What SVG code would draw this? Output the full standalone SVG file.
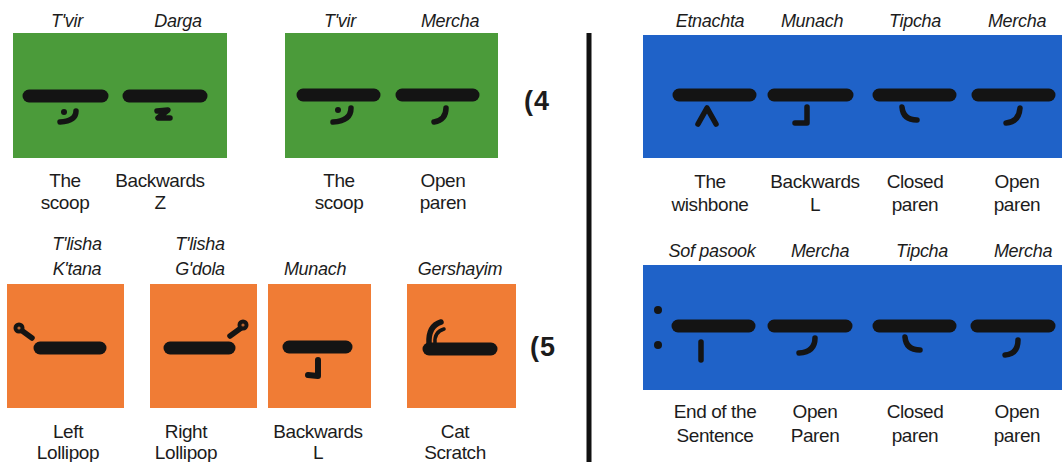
<svg xmlns="http://www.w3.org/2000/svg" width="1062" height="462" viewBox="0 0 1062 462">
<style>
text{font-family:"Liberation Sans",Arial,sans-serif;fill:#1c1c1c;text-anchor:middle;font-size:19px;letter-spacing:-0.4px}
.it{font-style:italic;font-size:18px;letter-spacing:-0.3px}
.num{font-weight:bold;font-size:27px;text-anchor:start;letter-spacing:1px}
.green{fill:#4b9b3a}
.orange{fill:#f07c35}
.blue{fill:#1f62c8}
.bar{stroke:#141414;stroke-width:13;stroke-linecap:round;fill:none}
.g{stroke:#141414;stroke-width:5.5;stroke-linecap:round;stroke-linejoin:round;fill:none}
.dot{fill:#141414}
</style>
<rect width="1062" height="462" fill="#ffffff"/>
<g id="divider"><line x1="589" y1="33" x2="589" y2="462" stroke="#111" stroke-width="5"/></g>

<g id="green-1">
<rect class="green" x="13" y="33" width="214" height="125"/>
<line class="bar" x1="29" y1="96" x2="102" y2="96"/>
<line class="bar" x1="129" y1="96" x2="201" y2="96"/>
<circle class="dot" cx="64" cy="112" r="3"/>
<path class="g" d="M76,111 Q76,121 60,122"/>
<path class="g" d="M157,111 L168,110 L158,118 L170,118"/>
<text class="it" x="67" y="27">T'vir</text>
<text class="it" x="178" y="27">Darga</text>
<text x="65" y="187">The</text><text x="65" y="209">scoop</text>
<text x="160" y="187">Backwards</text><text x="160" y="209">Z</text>
</g>

<g id="green-2">
<rect class="green" x="285" y="33" width="213" height="125"/>
<line class="bar" x1="303" y1="95" x2="374" y2="95"/>
<line class="bar" x1="402" y1="95" x2="473" y2="95"/>
<circle class="dot" cx="338" cy="110" r="3"/>
<path class="g" d="M351,108 Q351,121 333,122"/>
<path class="g" d="M446,108 Q446,120 434,122"/>
<text class="it" x="340" y="27">T'vir</text>
<text class="it" x="450" y="27">Mercha</text>
<text x="339" y="187">The</text><text x="339" y="209">scoop</text>
<text x="443" y="187">Open</text><text x="443" y="209">paren</text>
</g>
<text id="label-4" class="num" x="524" y="110">(4</text>

<g id="orange-1">
<rect class="orange" x="7" y="284" width="117" height="124"/>
<line class="bar" x1="40" y1="348" x2="100" y2="348"/>
<path class="g" d="M21,330 L32,338"/>
<circle class="dot" cx="19" cy="328" r="5.5"/>
<circle cx="19" cy="328" r="1.6" fill="#b86430"/>
<text class="it" x="77" y="250">T'lisha</text><text class="it" x="77" y="275">K'tana</text>
<text x="68" y="438">Left</text><text x="68" y="459">Lollipop</text>
</g>

<g id="orange-2">
<rect class="orange" x="150" y="284" width="107" height="124"/>
<line class="bar" x1="170" y1="348" x2="229" y2="348"/>
<path class="g" d="M241,328 L230,336"/>
<circle class="dot" cx="243" cy="325" r="5.5"/>
<circle cx="243" cy="325" r="1.6" fill="#b86430"/>
<text class="it" x="200" y="250">T'lisha</text><text class="it" x="200" y="275">G'dola</text>
<text x="186" y="438">Right</text><text x="186" y="459">Lollipop</text>
</g>

<g id="orange-3">
<rect class="orange" x="268" y="284" width="103" height="124"/>
<line class="bar" x1="289" y1="347" x2="346" y2="347"/>
<path class="g" d="M318,360 L318,376 L308,375" style="stroke-width:6"/>
<text class="it" x="315" y="275">Munach</text>
<text x="318" y="438">Backwards</text><text x="318" y="459">L</text>
</g>

<g id="orange-4">
<rect class="orange" x="407" y="284" width="109" height="124"/>
<line class="bar" x1="429" y1="349" x2="491" y2="349"/>
<path class="g" d="M429,344 Q428,326 441,322"/>
<path class="g" d="M435,343 Q434,332 444,329" style="stroke-width:3.5"/>
<text class="it" x="460" y="275">Gershayim</text>
<text x="455" y="438">Cat</text><text x="455" y="459">Scratch</text>
</g>
<text id="label-5" class="num" x="530" y="356">(5</text>

<g id="blue-1">
<rect class="blue" x="643" y="35" width="419" height="123"/>
<line class="bar" x1="679" y1="95" x2="750" y2="95"/>
<line class="bar" x1="774" y1="95" x2="847" y2="95"/>
<line class="bar" x1="879" y1="95" x2="950" y2="95"/>
<line class="bar" x1="978" y1="95" x2="1049" y2="95"/>
<path class="g" d="M698,124 L707,108 L716,124"/>
<path class="g" d="M807,107 L807,123 L795,123"/>
<path class="g" d="M902,107 Q903,120 917,120"/>
<path class="g" d="M1020,108 Q1019,122 1006,123"/>
<text class="it" x="710" y="27">Etnachta</text>
<text class="it" x="812" y="27">Munach</text>
<text class="it" x="915" y="27">Tipcha</text>
<text class="it" x="1017" y="27">Mercha</text>
<text x="710" y="188">The</text><text x="710" y="211">wishbone</text>
<text x="815" y="188">Backwards</text><text x="815" y="211">L</text>
<text x="915" y="188">Closed</text><text x="915" y="211">paren</text>
<text x="1017" y="188">Open</text><text x="1017" y="211">paren</text>
</g>

<g id="blue-2">
<rect class="blue" x="643" y="265" width="419" height="125"/>
<circle class="dot" cx="658" cy="310" r="4"/>
<circle class="dot" cx="658" cy="345" r="4"/>
<line class="bar" x1="678" y1="326" x2="749" y2="326"/>
<line class="bar" x1="774" y1="326" x2="846" y2="326"/>
<line class="bar" x1="879" y1="326" x2="950" y2="326"/>
<line class="bar" x1="977" y1="326" x2="1049" y2="326"/>
<path class="g" d="M701,342 L701,360"/>
<path class="g" d="M815,338 Q815,352 799,353"/>
<path class="g" d="M905,337 Q906,350 920,350"/>
<path class="g" d="M1018,340 Q1018,354 1005,355"/>
<text class="it" x="712" y="257">Sof pasook</text>
<text class="it" x="820" y="257">Mercha</text>
<text class="it" x="922" y="257">Tipcha</text>
<text class="it" x="1023" y="257">Mercha</text>
<text x="715" y="418">End of the</text><text x="715" y="442">Sentence</text>
<text x="815" y="418">Open</text><text x="815" y="442">Paren</text>
<text x="915" y="418">Closed</text><text x="915" y="442">paren</text>
<text x="1017" y="418">Open</text><text x="1017" y="442">paren</text>
</g>
</svg>
